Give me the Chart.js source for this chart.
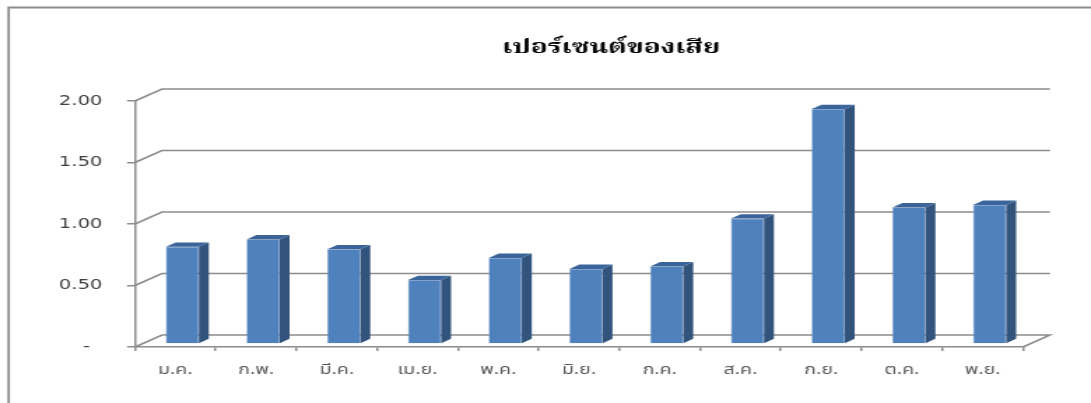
<!DOCTYPE html>
<html lang="th">
<head>
  <meta charset="UTF-8">
  <title>เปอร์เซนต์ของเสีย</title>
  <script src="https://cdn.jsdelivr.net/npm/chart.js"></script>
  <style>
    html, body { margin: 0; padding: 0; background: #fff; overflow: hidden; }
    /* drawn narrow, then widened like the original sheet chart */
    #wrap {
      position: relative;
      width: 780px;
      height: 403px;
      transform: scaleX(1.3987);
      transform-origin: 0 0;
    }
  </style>
</head>
<body>
<div id="wrap"><canvas id="lossChart"></canvas></div>

<script>
  const chartTitle = "เปอร์เซนต์ของเสีย";
  const months = ["ม.ค.", "ก.พ.", "มี.ค.", "เม.ย.", "พ.ค.", "มิ.ย.", "ก.ค.", "ส.ค.", "ก.ย.", "ต.ค.", "พ.ย."];
  const lossPercent = [0.79, 0.85, 0.77, 0.52, 0.70, 0.61, 0.63, 1.02, 1.91, 1.11, 1.13];
  const yTicks = [0, 0.5, 1, 1.5, 2];

  const thaiSans = "'Noto Sans Thai', 'DejaVu Sans', sans-serif";
  const thaiSerif = "'Noto Serif Thai', serif";

  // depth offsets (unstretched px)
  const WALL = { dx: 19.3, dy: -12 };
  const FRONT = { dx: 5, dy: -3 };
  const SIDE = { dx: 7.1, dy: -4.4 };

  const lineGray = "#8c8c8c";

  // outer border + title
  const frame = {
    id: "frame",
    beforeDraw(chart) {
      const ctx = chart.ctx;
      ctx.save();
      ctx.strokeStyle = lineGray;
      ctx.lineWidth = 1.8;
      ctx.beginPath();
      ctx.moveTo(780, 7.5);
      ctx.lineTo(6.2, 7.5);
      ctx.lineTo(6.2, 403);
      ctx.stroke();
      ctx.restore();
    },
    afterDraw(chart) {
      const ctx = chart.ctx;
      ctx.save();
      ctx.fillStyle = "#000";
      ctx.font = "bold 20px " + thaiSerif;
      ctx.textAlign = "center";
      ctx.textBaseline = "alphabetic";
      ctx.fillText(chartTitle, 437, 53);
      ctx.restore();
    }
  };

  const bars3d = {
    id: "bars3d",
    beforeDatasetsDraw(chart) {
      const { ctx, chartArea: a, scales } = chart;
      const y = scales.y;
      ctx.save();
      ctx.strokeStyle = lineGray;
      ctx.lineWidth = 1.5;
      for (const v of yTicks) {
        const py = y.getPixelForValue(v);
        ctx.beginPath();
        ctx.moveTo(a.left, py);
        ctx.lineTo(a.left + WALL.dx, py + WALL.dy);
        ctx.lineTo(a.right + WALL.dx, py + WALL.dy);
        if (v === 0) ctx.lineTo(a.right, py);
        ctx.stroke();
      }
      ctx.restore();
      ctx.save();
      ctx.translate(FRONT.dx, FRONT.dy);
    },
    afterDatasetsDraw(chart) {
      const ctx = chart.ctx;
      ctx.restore();
      const meta = chart.getDatasetMeta(0);
      ctx.save();
      for (const bar of meta.data) {
        const { x, y, base, width } = bar.getProps(["x", "y", "base", "width"], true);
        const x0 = x - width / 2 + FRONT.dx;
        const x1 = x + width / 2 + FRONT.dx;
        const top = y + FRONT.dy;
        const bottom = base + FRONT.dy;
        // side face
        ctx.fillStyle = "#32537c";
        ctx.beginPath();
        ctx.moveTo(x1, top);
        ctx.lineTo(x1 + SIDE.dx, top + SIDE.dy);
        ctx.lineTo(x1 + SIDE.dx, bottom + SIDE.dy);
        ctx.lineTo(x1, bottom);
        ctx.closePath();
        ctx.fill();
        // top face
        ctx.fillStyle = "#3b659a";
        ctx.beginPath();
        ctx.moveTo(x0, top);
        ctx.lineTo(x0 + SIDE.dx, top + SIDE.dy);
        ctx.lineTo(x1 + SIDE.dx, top + SIDE.dy);
        ctx.lineTo(x1, top);
        ctx.closePath();
        ctx.fill();
      }
      ctx.restore();
    }
  };

  new Chart(document.getElementById("lossChart"), {
    type: "bar",
    data: {
      labels: months,
      datasets: [{
        data: lossPercent,
        backgroundColor: "#4f81bd",
        borderColor: "#6f96c8",
        borderWidth: 0.6,
        categoryPercentage: 1,
        barPercentage: 0.41
      }]
    },
    options: {
      responsive: true,
      maintainAspectRatio: false,
      animation: false,
      layout: { padding: { left: 0, right: 48.6, top: 101, bottom: 0 } },
      plugins: {
        legend: { display: false },
        tooltip: { enabled: false },
        title: { display: false }
      },
      scales: {
        x: {
          offset: true,
          grid: { offset: true, drawOnChartArea: false, tickLength: 4, color: lineGray, lineWidth: 1.5 },
          border: { color: lineGray, width: 1.5 },
          ticks: {
            color: "#595959",
            font: { family: thaiSans, size: 14 },
            padding: 12,
            maxRotation: 0,
            autoSkip: false
          },
          afterFit(scale) { scale.height = 56; }
        },
        y: {
          min: 0,
          max: 2,
          grid: { drawOnChartArea: false, tickLength: 5.7, color: lineGray, lineWidth: 1.5 },
          border: { color: lineGray, width: 1.5 },
          ticks: {
            stepSize: 0.5,
            color: "#404040",
            font: { family: "'DejaVu Sans', Verdana, sans-serif", size: 14 },
            padding: 17.6,
            callback: v => v === 0 ? "-  " : v.toFixed(2)
          },
          afterFit(scale) { scale.width = 96.5; }
        }
      }
    },
    plugins: [frame, bars3d]
  });
</script>
</body>
</html>
